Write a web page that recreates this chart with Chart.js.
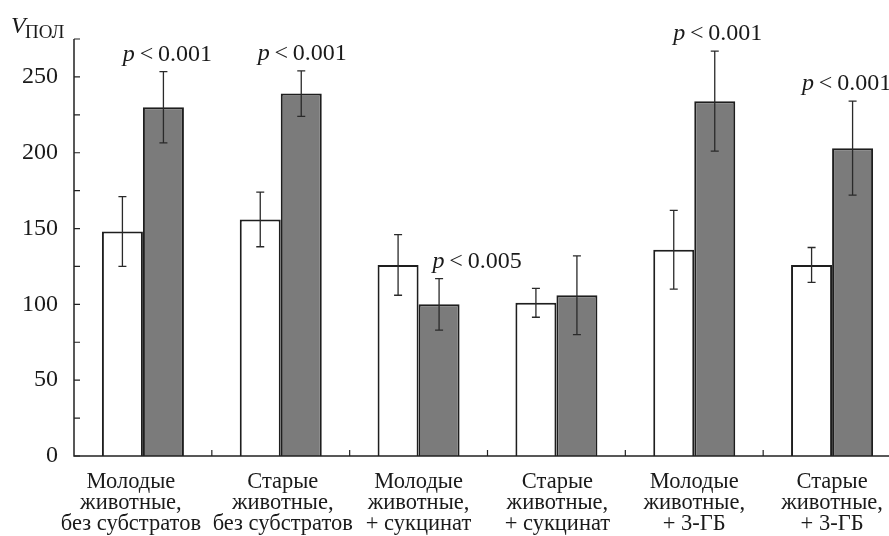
<!DOCTYPE html>
<html>
<head>
<meta charset="utf-8">
<script src="https://cdn.jsdelivr.net/npm/chart.js@4"></script>
<style>
  html, body { margin: 0; padding: 0; overflow: hidden; background: #fff; }
  #wrap { width: 905px; height: 536px; }
</style>
</head>
<body>
<div id="wrap"><canvas id="chart" width="905" height="536"></canvas></div>
<script>
// categories (groups of animals / substrates)
const categories = [
  ["Молодые", "животные,", "без субстратов"],
  ["Старые", "животные,", "без субстратов"],
  ["Молодые", "животные,", "+ сукцинат"],
  ["Старые", "животные,", "+ сукцинат"],
  ["Молодые", "животные,", "+ 3-ГБ"],
  ["Старые", "животные,", "+ 3-ГБ"]
];
// white bars and their error
const whiteValues = [148, 156, 126, 101, 136, 126];
const whiteErrors = [23, 18, 20, 9.5, 26, 11.5];
// grey bars and their error
const greyValues = [230, 239, 100, 106, 234, 203];
const greyErrors = [23.5, 15, 17, 26, 33, 31];
// significance labels over grey bars
const pValues = ["0.001", "0.001", "0.005", null, "0.001", "0.001"];
const yTicks = [0, 50, 100, 150, 200, 250];
const yMax = 275;

const FONT = "Liberation Serif";
const INK = "#1a1a1a";

// error bars, axes with inward ticks, category and p labels, y title
const decorPlugin = {
  id: "decor",
  afterDatasetsDraw(chart) {
    const ctx = chart.ctx;
    const y = chart.scales.y;
    const x = chart.scales.x;
    const area = chart.chartArea;
    const errs = [whiteErrors, greyErrors];

    ctx.save();
    // error bars
    ctx.strokeStyle = "#2a2a2a";
    ctx.lineWidth = 1.3;
    chart.data.datasets.forEach((ds, di) => {
      const meta = chart.getDatasetMeta(di);
      meta.data.forEach((bar, i) => {
        const v = ds.data[i], e = errs[di][i];
        const top = y.getPixelForValue(v + e);
        const bot = y.getPixelForValue(v - e);
        ctx.beginPath();
        ctx.moveTo(bar.x, top); ctx.lineTo(bar.x, bot);
        ctx.moveTo(bar.x - 4, top); ctx.lineTo(bar.x + 4, top);
        ctx.moveTo(bar.x - 4, bot); ctx.lineTo(bar.x + 4, bot);
        ctx.stroke();
      });
    });

    // axes
    ctx.strokeStyle = "#222";
    ctx.lineWidth = 1.5;
    ctx.beginPath();
    ctx.moveTo(area.left, area.top);
    ctx.lineTo(area.left, area.bottom);
    ctx.lineTo(area.right, area.bottom);
    ctx.stroke();

    // y ticks every 25, pointing inward
    ctx.lineWidth = 1.2;
    ctx.beginPath();
    for (let v = 0; v <= yMax; v += 25) {
      const py = y.getPixelForValue(v);
      ctx.moveTo(area.left, py); ctx.lineTo(area.left + 6, py);
    }
    // x ticks between categories
    for (let i = 1; i < categories.length; i++) {
      const px = (x.getPixelForValue(i - 1) + x.getPixelForValue(i)) / 2;
      ctx.moveTo(px, area.bottom); ctx.lineTo(px, area.bottom - 6);
    }
    ctx.stroke();

    // category labels (first one pushed left so it clears the second)
    const labelShift = [-12, 2, 0, 1, 0, 0];
    ctx.fillStyle = INK;
    ctx.textAlign = "center";
    ctx.textBaseline = "alphabetic";
    ctx.font = "22.5px " + FONT;
    categories.forEach((lines, i) => {
      const cx = x.getPixelForValue(i) + labelShift[i];
      lines.forEach((line, k) => ctx.fillText(line, cx, area.bottom + 32 + k * 21));
    });

    // p labels
    const shift = [4, 1, 38, 0, 3, -6];
    const greyMeta = chart.getDatasetMeta(1);
    ctx.textAlign = "left";
    pValues.forEach((p, i) => {
      if (!p) return;
      const bar = greyMeta.data[i];
      const baseY = y.getPixelForValue(greyValues[i] + greyErrors[i]) - 11;
      ctx.font = "italic 24px " + FONT;
      const wp = ctx.measureText("p").width;
      ctx.font = "24px " + FONT;
      const rest = "\u2009<\u2009" + p;
      const wr = ctx.measureText(rest).width;
      const x0 = bar.x + shift[i] - (wp + wr) / 2;
      ctx.font = "italic 24px " + FONT;
      ctx.fillText("p", x0, baseY);
      ctx.font = "24px " + FONT;
      ctx.fillText(rest, x0 + wp, baseY);
    });

    // y title V_ПОЛ
    ctx.font = "italic 24px " + FONT;
    ctx.fillText("V", 11, 33);
    ctx.font = "19px " + FONT;
    ctx.fillText("ПОЛ", 25, 38);
    ctx.restore();
  }
};

new Chart(document.getElementById("chart"), {
  type: "bar",
  data: {
    labels: categories,
    datasets: [
      {
        data: whiteValues,
        backgroundColor: "#ffffff",
        borderColor: "#1e1e1e",
        borderWidth: 2,
        categoryPercentage: 0.595,
        barPercentage: 1.0
      },
      {
        data: greyValues,
        backgroundColor: "#7b7b7b",
        borderColor: "#1e1e1e",
        borderWidth: 2,
        categoryPercentage: 0.595,
        barPercentage: 1.0
      }
    ]
  },
  options: {
    responsive: false,
    animation: false,
    devicePixelRatio: 1,
    layout: { padding: { top: 39, right: 4, left: 0, bottom: 0 } },
    plugins: { legend: { display: false }, tooltip: { enabled: false } },
    scales: {
      x: {
        grid: { display: false },
        border: { display: false },
        afterFit(scale) { scale.height = 80; },
        ticks: { display: false }
      },
      y: {
        min: 0,
        max: yMax,
        grid: { display: false },
        border: { display: false },
        afterFit(scale) { scale.width = 74; },
        afterBuildTicks(scale) { scale.ticks = yTicks.map(v => ({ value: v })); },
        ticks: {
          color: INK,
          padding: 8,
          font: { family: FONT, size: 24 }
        }
      }
    }
  },
  plugins: [decorPlugin]
});
</script>
</body>
</html>
